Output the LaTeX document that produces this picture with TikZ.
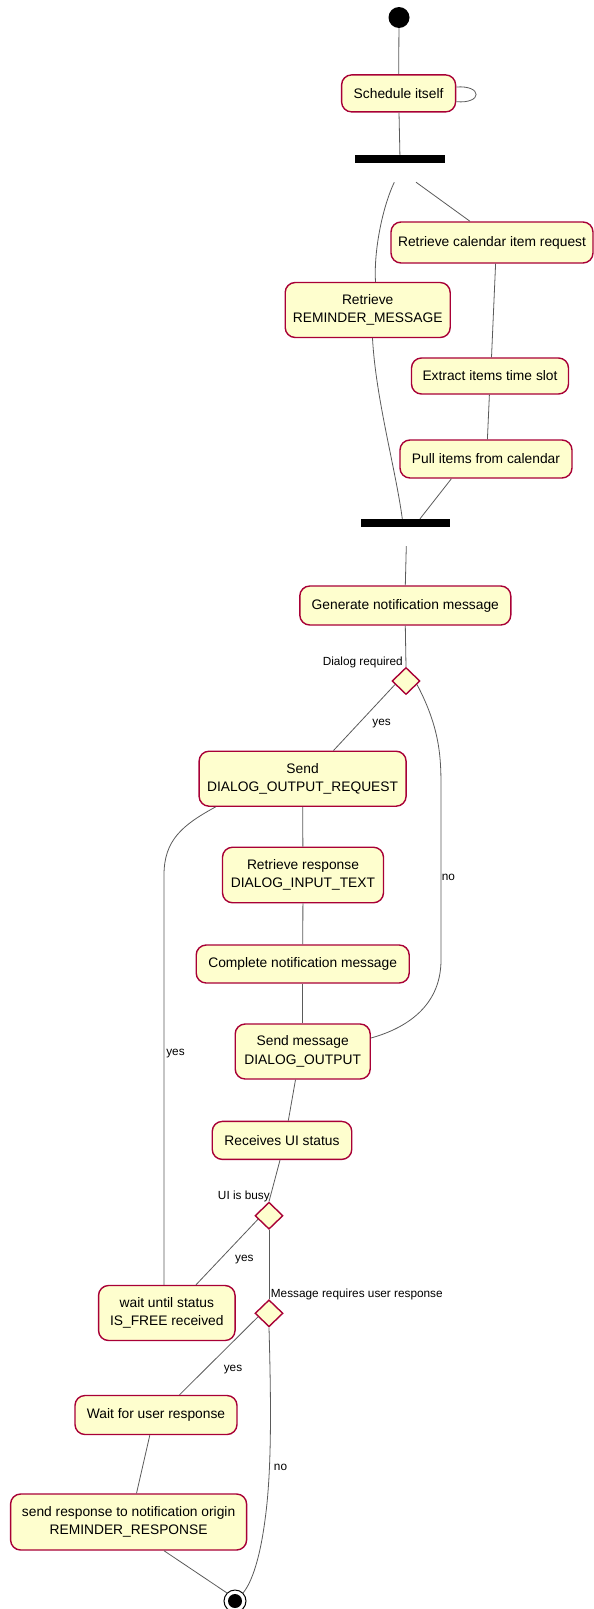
\documentclass[tikz,border=0pt]{standalone}
\usepackage{fontspec}
\setmainfont{Liberation Sans}
\usetikzlibrary{calc,shapes.geometric}
\definecolor{actfill}{HTML}{FEFECE}
\definecolor{actline}{HTML}{A80036}
\definecolor{flow}{HTML}{5A5A5A}
\tikzset{
  act/.style={draw=actline, fill=actfill, line width=1.4pt, rounded corners=10pt,
    inner sep=0pt, align=center, font=\fontsize{13.8}{18.5}\selectfont},
  bar/.style={fill=black, draw=none, inner sep=0pt},
  decision/.style={draw=actline, fill=actfill, line width=1.4pt, diamond,
    minimum width=28pt, minimum height=27pt, inner sep=0pt},
  lbl/.style={font=\fontsize{11.8}{14}\selectfont, inner sep=0pt},
  flowline/.style={draw=flow, line width=0.8pt},
}
\begin{document}
\begin{tikzpicture}[x=1pt,y=-1pt]
\useasboundingbox (0,0) rectangle (594,1609);

% start / end markers
\node[circle, fill=black, minimum size=21pt, inner sep=0pt] (start) at (399,17.5) {};
\node[circle, draw=black, fill=white, line width=1pt, minimum size=22pt, inner sep=0pt] (end) at (235,1601) {};
\fill[black] (end.center) circle (7pt);

% activities
\node[act, minimum width=114pt, minimum height=37pt] (sched) at (398.6,93.4) {Schedule itself};
\node[bar, minimum width=90pt, minimum height=8pt] (fork) at (400,159) {};
\node[act, minimum width=165pt, minimum height=55pt] (remind) at (367.7,310) {Retrieve\\REMINDER\_MESSAGE};
\node[act, minimum width=202pt, minimum height=41pt] (retcal) at (492,242.5) {Retrieve calendar item request};
\node[act, minimum width=157pt, minimum height=36pt] (extract) at (490,376) {Extract items time slot};
\node[act, minimum width=172pt, minimum height=38pt] (pull) at (486,459) {Pull items from calendar};
\node[bar, minimum width=89pt, minimum height=8pt] (join) at (405.6,523) {};
\node[act, minimum width=211pt, minimum height=39pt] (gen) at (405.3,605.5) {Generate notification message};
\node[decision] (d1) at (406,681) {};
\node[act, minimum width=207pt, minimum height=55pt] (sendreq) at (302.6,778.7) {Send\\DIALOG\_OUTPUT\_REQUEST};
\node[act, minimum width=161pt, minimum height=55.5pt] (retresp) at (303,875) {Retrieve response\\DIALOG\_INPUT\_TEXT};
\node[act, minimum width=213pt, minimum height=38pt] (complete) at (302.7,964) {Complete notification message};
\node[act, minimum width=135pt, minimum height=55pt] (sendmsg) at (302.7,1051.5) {Send message\\DIALOG\_OUTPUT};
\node[act, minimum width=139.5pt, minimum height=38pt] (recv) at (282,1140.4) {Receives UI status};
\node[decision] (d2) at (269,1215.7) {};
\node[act, minimum width=136.5pt, minimum height=55pt] (waitfree) at (166.8,1313) {wait until status\\IS\_FREE received};
\node[decision] (d3) at (269,1313.3) {};
\node[act, minimum width=162pt, minimum height=39pt] (waituser) at (156,1415) {Wait for user response};
\node[act, minimum width=236pt, minimum height=56pt] (sendresp) at (128.6,1522) {send response to notification origin\\REMINDER\_RESPONSE};

% decision captions
\node[lbl, anchor=base east] (cap1) at (403,665) {Dialog required};
\node[lbl, anchor=base east] (cap2) at (270,1199.3) {UI is busy};
\node[lbl, anchor=base west] (cap3) at (270.7,1297.7) {Message requires user response};

% branch guards
\node[lbl] (yes1) at (381.6,723.5) {yes};
\node[lbl] (no1) at (448.4,877) {no};
\node[lbl] (yes2) at (175.5,1053.7) {yes};
\node[lbl] (yes3) at (244.3,1259.3) {yes};
\node[lbl] (yes4) at (233,1369.7) {yes};
\node[lbl] (no2) at (280.5,1467) {no};

% connectors
\draw[flowline] (start) -- (sched);
\draw[flowline] (sched) -- (fork);
\draw[flowline] ($(sched.east)+(0,-6.4)$) .. controls ($(sched.east)+(26.4,-8.4)$) and ($(sched.east)+(26.4,10.6)$) .. ($(sched.east)+(0,8.3)$);
\draw[flowline] ($(fork.south)+(-5.7,19)$) .. controls ($(fork.south)+(-18,45)$) and ($(remind.north)+(6,-30)$) .. ($(remind.north)+(7.8,0)$);
\draw[flowline] ($(fork.south)+(16,19)$) -- ($(retcal.north)+(-22,0)$);
\draw[flowline] ($(remind.south)+(4.8,0)$) .. controls ($(remind.south)+(8,60)$) and ($(join.north)+(-10,-50)$) .. ($(join.north)+(-3.3,0)$);
\draw[flowline] ($(retcal.south)+(3.6,0)$) -- ($(extract.north)+(1.5,0)$);
\draw[flowline] ($(extract.south)+(-0.6,0)$) -- ($(pull.north)+(1.4,0)$);
\draw[flowline] ($(pull.south)+(-34.6,0)$) -- ($(join.north)+(14.4,0)$);
\draw[flowline] ($(join.south)+(0.7,19)$) -- (gen.north);
\draw[flowline] (gen.south) -- (d1.north);
\draw[flowline] ($(d1.south west)!0.5!(d1.west)$) -- ($(sendreq.north)+(30.9,0)$);
\draw[flowline] ($(d1.south east)!0.5!(d1.east)$) .. controls (441,730) and (441,760) .. (441,790)
  -- (441,960) .. controls (441,1010) and (400,1030) .. ($(sendmsg.east)+(0,-13.5)$);
\draw[flowline] (sendreq) -- (retresp);
\draw[flowline] (retresp) -- (complete);
\draw[flowline] (complete) -- (sendmsg);
\draw[flowline] ($(sendmsg.south)+(-7.2,0)$) -- ($(recv.north)+(6.3,0)$);
\draw[flowline] ($(recv.south)+(-2,0)$) -- (d2.north);
\draw[flowline] ($(sendreq.south)+(-87,0)$) .. controls ($(sendreq.south)+(-120,18)$) and (164,840) .. (164,875)
  -- ($(waitfree.north)+(-2.8,0)$);
\draw[flowline] ($(d2.south west)!0.5!(d2.west)$) -- ($(waitfree.north)+(29.2,0)$);
\draw[flowline] (d2.south) -- (d3.north);
\draw[flowline] ($(d3.south west)!0.5!(d3.west)$) -- ($(waituser.north)+(23.5,0)$);
\draw[flowline] ($(waituser.south)+(-6.2,0)$) -- ($(sendresp.north)+(7.9,0)$);
\draw[flowline] ($(sendresp.south)+(35.4,0)$) -- (end.north west);
\draw[flowline] (d3.south) .. controls (271,1400) and (272,1470) .. (265,1520)
  .. controls (260,1558) and (252,1582) .. (end.north east);
\end{tikzpicture}
\end{document}
